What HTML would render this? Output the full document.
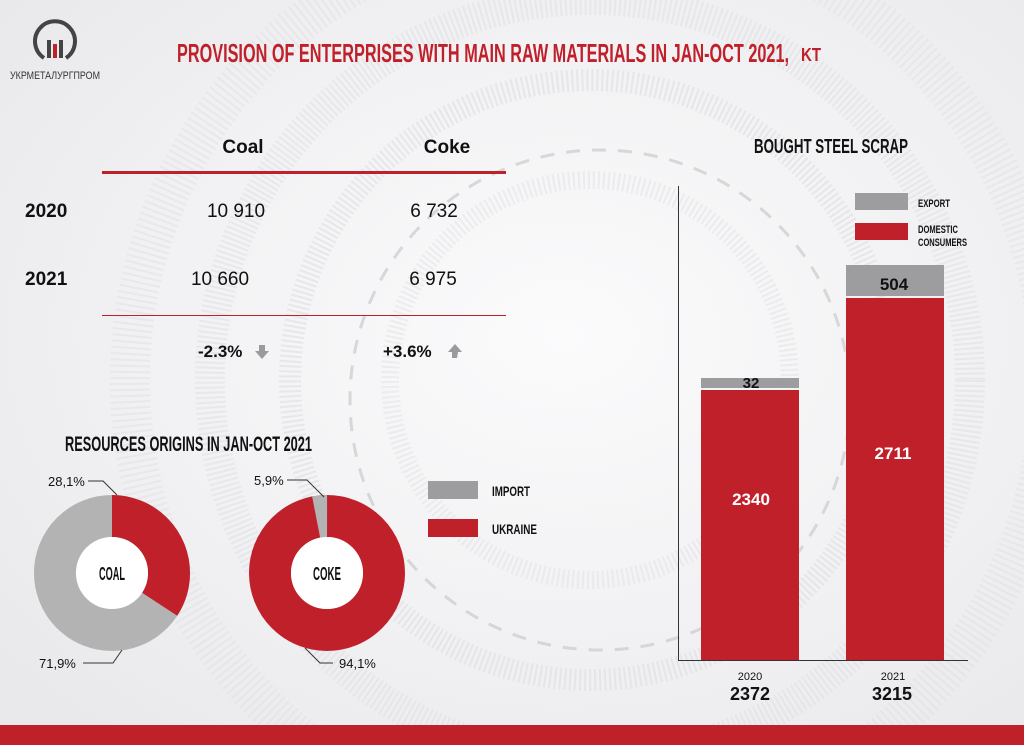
<!DOCTYPE html>
<html><head><meta charset="utf-8"><style>
html,body{margin:0;padding:0;width:1024px;height:745px;overflow:hidden;background:#f3f3f4}
svg{display:block;overflow:hidden}
</style></head><body>
<svg width="1024" height="745" viewBox="0 0 1024 745" xmlns="http://www.w3.org/2000/svg" font-family="'Liberation Sans Narrow','Liberation Sans',sans-serif">
<defs>
<radialGradient id="bg" cx="0.55" cy="0.45" r="0.7">
<stop offset="0" stop-color="#fbfbfc"/><stop offset="0.6" stop-color="#f1f1f3"/><stop offset="1" stop-color="#e9e9ec"/>
</radialGradient>
<clipPath id="cl"><rect width="1024" height="745"/></clipPath>
</defs>
<rect width="1024" height="745" fill="url(#bg)"/>
<g fill="none" stroke="#dcdde1" clip-path="url(#cl)">
<circle cx="590" cy="380" r="300" stroke-width="22" stroke-dasharray="2 3" opacity="0.6"/>
<circle cx="590" cy="380" r="380" stroke-width="30" stroke-dasharray="2 3" opacity="0.5"/>
<circle cx="590" cy="380" r="460" stroke-width="40" stroke-dasharray="2 4" opacity="0.4"/>
<circle cx="600" cy="400" r="250" stroke="#c9cacd" stroke-width="3" stroke-dasharray="14 12" opacity="0.7"/>
<circle cx="590" cy="380" r="200" stroke-width="18" stroke-dasharray="2 3" opacity="0.4"/>
</g>
<g>
<path d="M44 58 A20 20 0 1 1 66 58" fill="none" stroke="#444" stroke-width="4"/>
<rect x="47" y="40" width="4" height="18" fill="#444"/>
<rect x="53" y="44" width="4" height="14" fill="#c0202a"/>
<rect x="59" y="40" width="4" height="18" fill="#444"/>
<text x="55" y="79" font-size="11" fill="#333" text-anchor="middle" textLength="90" lengthAdjust="spacingAndGlyphs">УКРМЕТАЛУРГПРОМ</text>
</g>
<text x="177" y="62" font-size="26" font-weight="bold" fill="#c0202a" textLength="612" lengthAdjust="spacingAndGlyphs">PROVISION OF ENTERPRISES WITH MAIN RAW MATERIALS IN JAN-OCT 2021,</text>
<text x="801" y="61" font-size="18" font-weight="bold" fill="#c0202a" textLength="20" lengthAdjust="spacingAndGlyphs">KT</text>
<g font-family="'Liberation Sans',sans-serif" fill="#111">
<text x="243" y="153" font-size="19" font-weight="bold" text-anchor="middle">Coal</text>
<text x="447" y="153" font-size="19" font-weight="bold" text-anchor="middle">Coke</text>
<rect x="102" y="171" width="404" height="3" fill="#c0202a"/>
<text x="25" y="217" font-size="19" font-weight="bold">2020</text>
<text x="236" y="217" font-size="19" text-anchor="middle">10 910</text>
<text x="434" y="217" font-size="19" text-anchor="middle">6 732</text>
<text x="25" y="285" font-size="19" font-weight="bold">2021</text>
<text x="220" y="285" font-size="19" text-anchor="middle">10 660</text>
<text x="433" y="285" font-size="19" text-anchor="middle">6 975</text>
<rect x="102" y="315" width="404" height="1" fill="#c0202a"/>
<text x="198" y="357" font-size="17" font-weight="bold">-2.3%</text>
<path d="M259 345 h6 v6 h4 l-7 8 l-7 -8 h4z" fill="#9a9a9c"/>
<text x="383" y="357" font-size="17" font-weight="bold">+3.6%</text>
<path d="M457 358 h-5 v-6 h-4 l7 -8 l7 8 h-4z" fill="#9a9a9c"/>
</g>
<text x="65" y="451" font-size="21" font-weight="bold" fill="#111" textLength="247" lengthAdjust="spacingAndGlyphs">RESOURCES ORIGINS IN JAN-OCT 2021</text>
<circle cx="112" cy="573" r="57" fill="none" stroke="#b3b3b3" stroke-width="42"/>
<circle cx="112" cy="573" r="57" fill="none" stroke="#c0202a" stroke-width="42" stroke-dasharray="122.5 400" transform="rotate(-90 112 573)"/>
<circle cx="112" cy="573" r="36" fill="#fff"/>
<text x="112" y="580" font-size="18" font-weight="bold" text-anchor="middle" fill="#111" textLength="26" lengthAdjust="spacingAndGlyphs">COAL</text>
<circle cx="327" cy="573" r="57" fill="none" stroke="#c0202a" stroke-width="42"/>
<circle cx="327" cy="573" r="57" fill="none" stroke="#b3b3b3" stroke-width="42" stroke-dasharray="11 400" transform="rotate(-101 327 573)"/>
<circle cx="327" cy="573" r="36" fill="#fff"/>
<text x="327" y="580" font-size="18" font-weight="bold" text-anchor="middle" fill="#111" textLength="28" lengthAdjust="spacingAndGlyphs">COKE</text>
<g font-family="'Liberation Sans',sans-serif" font-size="13" fill="#111">
<text x="48" y="486">28,1%</text>
<text x="39" y="668">71,9%</text>
<text x="254" y="485">5,9%</text>
<text x="339" y="668">94,1%</text>
</g>
<g fill="none" stroke="#333" stroke-width="1">
<path d="M88 481 H103 L117 495"/>
<path d="M83 663 H113 L122 650"/>
<path d="M287 480 H307 L324 497"/>
<path d="M333 663 H320 L305 648"/>
</g>
<rect x="428" y="481" width="50" height="18" fill="#9d9d9f"/>
<rect x="428" y="519" width="50" height="18" fill="#c0202a"/>
<text x="492" y="496" font-size="14" font-weight="bold" fill="#111" textLength="38" lengthAdjust="spacingAndGlyphs">IMPORT</text>
<text x="492" y="534" font-size="14" font-weight="bold" fill="#111" textLength="45" lengthAdjust="spacingAndGlyphs">UKRAINE</text>
<text x="831" y="153" font-size="20" font-weight="bold" fill="#111" text-anchor="middle" textLength="154" lengthAdjust="spacingAndGlyphs">BOUGHT STEEL SCRAP</text>
<rect x="678" y="186" width="1" height="474" fill="#333"/>
<rect x="678" y="660" width="290" height="1" fill="#333"/>
<rect x="855" y="193" width="53" height="17" fill="#9d9d9f"/>
<rect x="855" y="223" width="53" height="17" fill="#c0202a"/>
<text x="918" y="207" font-size="11" font-weight="bold" fill="#111" textLength="32" lengthAdjust="spacingAndGlyphs">EXPORT</text>
<text x="918" y="233" font-size="11" font-weight="bold" fill="#111" textLength="40" lengthAdjust="spacingAndGlyphs">DOMESTIC</text>
<text x="918" y="246" font-size="11" font-weight="bold" fill="#111" textLength="49" lengthAdjust="spacingAndGlyphs">CONSUMERS</text>
<rect x="701" y="378" width="98" height="10" fill="#9d9d9f"/>
<rect x="701" y="390" width="98" height="270" fill="#c0202a"/>
<rect x="846" y="265" width="98" height="31" fill="#9d9d9f"/>
<rect x="846" y="298" width="98" height="362" fill="#c0202a"/>
<g font-family="'Liberation Sans',sans-serif" font-weight="bold" text-anchor="middle">
<text x="751" y="388" font-size="15" fill="#111">32</text>
<text x="894" y="290" font-size="17" fill="#111">504</text>
<text x="751" y="505" font-size="17" fill="#fff">2340</text>
<text x="893" y="459" font-size="17" fill="#fff">2711</text>
<text x="750" y="700" font-size="18" fill="#111">2372</text>
<text x="892" y="700" font-size="18" fill="#111">3215</text>
</g>
<text x="750" y="680" font-size="11" fill="#111" text-anchor="middle">2020</text>
<text x="893" y="680" font-size="11" fill="#111" text-anchor="middle">2021</text>
<rect x="0" y="725" width="1024" height="20" fill="#c0202a"/>
</svg>
</body></html>
